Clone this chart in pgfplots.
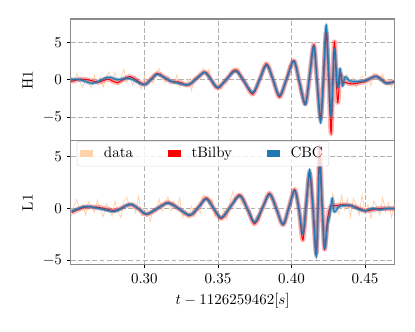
\documentclass[border=0pt]{standalone}
\usepackage{pgfplots}
\usepackage{pgfplotstable}
\pgfplotsset{compat=1.18}
\definecolor{cbcBlue}{HTML}{1F77B4}
\definecolor{dataPeach}{HTML}{FFD2AA}
\definecolor{gridGrey}{HTML}{B0B0B0}
\definecolor{spineGrey}{HTML}{8C8C8C}

% ---- H1 ------------------------------------------------------------------
\pgfplotstableread{
t v
0.250 0.40
0.252 -0.42
0.254 0.85
0.256 -0.19
0.258 -1.00
0.260 0.15
0.262 -0.28
0.264 -1.05
0.266 0.58
0.268 -0.60
0.270 0.40
0.272 -1.00
0.274 0.50
0.276 1.05
0.278 -0.15
0.280 1.00
0.282 -0.65
0.284 0.08
0.286 1.43
0.288 -0.32
0.290 0.50
0.292 -0.70
0.294 0.45
0.296 -0.60
0.298 -1.20
0.300 0.50
0.302 -0.45
0.304 0.40
0.306 -0.50
0.308 0.90
0.310 1.52
0.312 0.25
0.314 -0.40
0.316 0.55
0.318 -0.05
0.320 -0.60
0.322 0.65
0.324 -0.95
0.326 -0.20
0.328 -0.82
0.330 0.08
0.332 -1.45
0.334 0.30
0.336 0.50
0.338 0.20
0.340 1.55
0.342 0.60
0.344 1.40
0.346 -0.60
0.348 -0.50
0.350 -0.50
0.352 -1.25
0.354 -0.20
0.356 -0.50
0.358 0.85
0.360 1.45
0.362 0.90
0.364 1.55
0.366 -0.05
0.368 -0.10
0.370 -1.05
0.372 -1.00
0.374 -2.00
0.376 -1.00
0.378 -0.40
0.380 1.40
0.382 2.40
0.384 1.55
0.386 1.00
0.388 -0.70
0.390 -1.40
0.392 -2.20
0.394 -1.30
0.396 -0.40
0.398 1.80
0.400 2.20
0.402 2.50
0.404 1.30
0.406 -2.00
0.408 -2.50
0.410 -3.20
0.412 0.30
0.414 4.10
0.416 3.20
0.418 -2.30
0.420 -5.10
0.422 -0.80
0.424 6.70
0.426 -1.50
0.428 0.30
0.430 2.80
0.432 -0.10
0.434 0.70
0.436 0.50
0.438 0.70
0.440 -0.50
0.442 0.30
0.444 -1.00
0.446 0.00
0.448 0.55
0.450 -0.40
0.452 0.40
0.454 -0.75
0.456 0.95
0.458 0.55
0.460 -0.20
0.462 0.80
0.464 -0.65
0.466 0.00
0.468 -0.95
0.470 0.10
}\hOneData

\pgfplotstableread{
t v
0.2500 -0.20
0.2568 0.10
0.2620 0.00
0.2690 -0.30
0.2751 0.10
0.2819 -0.35
0.2901 0.45
0.2996 -0.60
0.3045 0.10
0.3091 0.85
0.3179 -0.20
0.3230 -0.25
0.3294 -0.70
0.3352 0.15
0.3410 1.05
0.3454 0.00
0.3498 -1.10
0.3559 0.10
0.3620 1.35
0.3678 -0.20
0.3736 -1.90
0.3784 0.10
0.3831 2.15
0.3875 0.00
0.3919 -2.30
0.3968 0.20
0.4016 2.60
0.4055 -0.40
0.4094 -3.20
0.4123 0.50
0.4152 4.70
0.4175 -0.40
0.4198 -5.10
0.4217 0.00
0.4236 6.30
0.4253 0.00
0.4269 -7.10
0.4281 0.00
0.4293 5.10
0.4313 -3.00
0.4330 0.80
0.4347 -0.30
0.4364 -0.30
0.4394 -0.50
0.4430 -0.50
0.4500 -0.20
0.4576 0.50
0.4644 -0.40
0.4700 -0.20
}\hOneBilby

\pgfplotstableread{
t v
0.2500 0.10
0.2568 0.00
0.2649 -0.45
0.2751 0.35
0.2819 0.05
0.2901 0.20
0.2996 -0.65
0.3045 0.05
0.3091 0.75
0.3179 -0.15
0.3294 -0.65
0.3352 0.15
0.3410 1.00
0.3454 0.00
0.3498 -1.00
0.3559 0.10
0.3620 1.20
0.3678 -0.20
0.3736 -1.70
0.3784 0.10
0.3831 2.00
0.3875 0.00
0.3919 -2.10
0.3968 0.20
0.4016 2.50
0.4055 -0.40
0.4094 -3.30
0.4123 0.50
0.4152 4.50
0.4175 -0.50
0.4198 -5.70
0.4217 0.50
0.4236 7.30
0.4253 1.00
0.4269 -4.80
0.4281 -0.50
0.4293 4.00
0.4313 -1.00
0.4330 1.50
0.4347 -0.80
0.4364 0.40
0.4394 -0.10
0.4430 -0.20
0.4500 -0.10
0.4576 0.45
0.4644 -0.45
0.4700 -0.20
}\hOneCBC

% ---- L1 ------------------------------------------------------------------
\pgfplotstableread{
t v
0.250 -0.85
0.252 0.25
0.254 0.90
0.256 -0.18
0.258 0.40
0.260 -0.58
0.262 0.68
0.264 0.22
0.266 -0.33
0.268 0.83
0.270 -0.20
0.272 -0.75
0.274 0.48
0.276 0.10
0.278 -0.75
0.280 0.75
0.282 -0.25
0.284 -0.85
0.286 0.65
0.288 1.10
0.290 0.15
0.292 0.58
0.294 -0.38
0.296 1.20
0.298 -0.65
0.300 -0.35
0.302 0.00
0.304 -1.22
0.306 0.00
0.308 -0.32
0.310 0.95
0.312 -0.25
0.314 0.62
0.316 1.15
0.318 -0.20
0.320 0.75
0.322 0.05
0.324 1.05
0.326 -0.85
0.328 -0.15
0.330 -0.88
0.332 0.25
0.334 -0.70
0.336 0.25
0.338 -0.45
0.340 1.30
0.342 1.05
0.344 0.40
0.346 0.95
0.348 -0.75
0.350 -0.25
0.352 -1.05
0.354 -0.05
0.356 -1.00
0.358 0.60
0.360 1.65
0.362 0.70
0.364 1.35
0.366 0.40
0.368 0.95
0.370 -0.20
0.372 -0.20
0.374 -1.50
0.376 -0.65
0.378 -1.20
0.380 0.20
0.382 0.60
0.384 1.60
0.386 0.90
0.388 0.90
0.390 0.50
0.392 -1.20
0.394 -1.30
0.396 -1.40
0.398 0.40
0.400 0.90
0.402 1.95
0.404 1.30
0.406 -1.00
0.408 -2.10
0.410 -1.40
0.412 3.20
0.414 2.90
0.416 -2.70
0.418 0.20
0.420 3.20
0.422 -2.60
0.424 -1.30
0.426 -1.30
0.428 1.50
0.430 0.20
0.432 -0.50
0.434 1.30
0.436 -0.10
0.438 0.95
0.440 -0.80
0.442 1.00
0.444 0.40
0.446 -0.60
0.448 1.35
0.450 -0.35
0.452 0.40
0.454 -0.90
0.456 0.75
0.458 0.20
0.460 -0.60
0.462 1.05
0.464 -0.25
0.466 0.60
0.468 -0.80
0.470 0.40
}\lOneData

\pgfplotstableread{
t v
0.2505 -0.35
0.2595 0.15
0.2697 0.12
0.2799 -0.15
0.2901 0.40
0.2960 0.00
0.3014 -0.55
0.3090 0.05
0.3161 0.60
0.3235 0.00
0.3308 -0.65
0.3365 0.10
0.3421 1.05
0.3472 0.00
0.3523 -0.95
0.3585 0.20
0.3648 1.35
0.3700 0.00
0.3749 -1.45
0.3800 0.00
0.3851 1.50
0.3897 0.00
0.3942 -1.55
0.3982 0.10
0.4021 1.85
0.4050 0.00
0.4077 -3.00
0.4100 0.50
0.4123 3.40
0.4146 0.00
0.4168 -4.30
0.4180 0.00
0.4191 5.90
0.4208 0.30
0.4225 -3.90
0.4245 -1.00
0.4265 0.20
0.4300 0.30
0.4350 0.40
0.4400 0.30
0.4450 0.10
0.4500 -0.20
0.4550 -0.10
0.4600 0.05
0.4650 0.00
0.4700 0.05
}\lOneBilby

\pgfplotstableread{
t v
0.2505 -0.25
0.2595 0.22
0.2697 0.02
0.2799 -0.25
0.2901 0.45
0.2960 0.00
0.3014 -0.50
0.3090 0.05
0.3161 0.55
0.3235 0.00
0.3308 -0.60
0.3365 0.10
0.3421 0.95
0.3472 0.00
0.3523 -0.85
0.3585 0.20
0.3648 1.25
0.3700 0.00
0.3749 -1.30
0.3800 0.00
0.3851 1.40
0.3897 0.00
0.3942 -1.50
0.3982 0.10
0.4021 1.75
0.4050 0.00
0.4077 -2.40
0.4100 0.50
0.4123 3.75
0.4146 0.00
0.4168 -4.60
0.4180 0.00
0.4191 4.50
0.4208 0.30
0.4225 -3.80
0.4245 -1.50
0.4259 -0.60
0.4277 1.00
0.4290 -0.30
0.4320 0.20
0.4350 0.30
0.4400 0.35
0.4450 0.00
0.4500 -0.20
0.4550 0.05
0.4600 -0.10
0.4650 0.05
0.4700 0.00
}\lOneCBC

\pgfplotsset{
  gwpanel/.style={
    scale only axis, width=216pt,
    xmin=0.25, xmax=0.47,
    xtick={0.30,0.35,0.40,0.45},
    ytick={-5,0,5},
    grid=major,
    grid style={dash pattern=on 3.2pt off 1.6pt, gridGrey, line width=0.6pt},
    axis line style={spineGrey, line width=0.8pt},
    tick align=outside, major tick length=2.4pt,
    tick style={black, line width=0.6pt},
    xtick pos=left, ytick pos=left,
    xticklabel style={/pgf/number format/.cd, fixed, precision=2, zerofill},
  },
  dataline/.style={dataPeach, line width=0.5pt},
  redband/.style={red, opacity=0.3, line width=3.2pt, smooth, line join=round},
  redline/.style={red, line width=0.7pt, smooth},
  blueband/.style={cbcBlue, opacity=0.45, line width=2.2pt, smooth, line join=round},
  blueline/.style={cbcBlue, line width=0.7pt, smooth},
  swatch/.style={legend image code/.code={
      \fill[##1, draw=none, sharp corners, fill opacity=1]
        (0pt,-2.25pt) rectangle (9pt,2.25pt);}},
}

\begin{document}
\begin{tikzpicture}
\useasboundingbox (0,0) rectangle (277pt,221.3pt);

\begin{axis}[gwpanel,
    at={(47.3pt,127.3pt)}, anchor=south west,
    height=81.3pt,
    ymin=-8.13, ymax=8.13,
    xticklabels={}, xtick style={draw=none},
    ylabel={H1},
]
\addplot[dataline] table[x=t, y=v] {\hOneData};
\addplot[redband] table[x=t, y=v] {\hOneBilby};
\addplot[redline] table[x=t, y=v] {\hOneBilby};
\addplot[blueband] table[x=t, y=v] {\hOneCBC};
\addplot[blueline] table[x=t, y=v] {\hOneCBC};
\end{axis}

\begin{axis}[gwpanel,
    at={(47.3pt,44.6pt)}, anchor=south west,
    height=82.7pt,
    ymin=-5.38, ymax=6.54,
    ylabel={L1},
    xlabel={$t-1126259462[s]$},
    legend columns=3,
    legend style={at={(rel axis cs:0.018,0.998)}, anchor=north west,
        draw=black!12, fill=white, fill opacity=0.8, text opacity=1,
        rounded corners=1.5pt, inner sep=2pt,
        /tikz/every odd column/.append style={column sep=5pt},
        /tikz/every even column/.append style={column sep=21pt}},
]
\addplot[dataline, forget plot] table[x=t, y=v] {\lOneData};
\addplot[redband, forget plot] table[x=t, y=v] {\lOneBilby};
\addplot[redline, forget plot] table[x=t, y=v] {\lOneBilby};
\addplot[blueband, forget plot] table[x=t, y=v] {\lOneCBC};
\addplot[blueline, forget plot] table[x=t, y=v] {\lOneCBC};
\addlegendimage{swatch, fill=dataPeach}
\addlegendentry{data}
\addlegendimage{swatch, fill=red}
\addlegendentry{tBilby}
\addlegendimage{swatch, fill=cbcBlue}
\addlegendentry{CBC}
\end{axis}
\end{tikzpicture}
\end{document}
